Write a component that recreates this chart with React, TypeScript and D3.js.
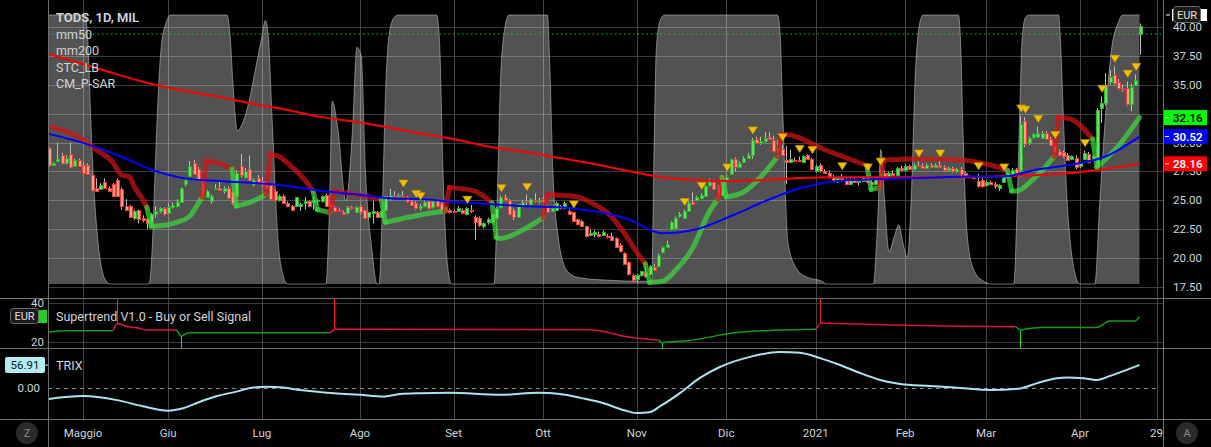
import React from "react";
import * as d3 from "d3";

// TODS daily candles [open, high, low, close], 21 Apr 2020 - 23 Apr 2021
const candles: [number, number, number, number][] = [
  [29.5, 29.6, 27.9, 28.1], [28.1, 28.3, 28.0, 28.25], [28.4, 30.0, 28.3, 28.6], [28.9, 29.1, 28.1, 28.2],
  [28.2, 28.9, 28.1, 28.7], [29.05, 30.0, 27.8, 27.9], [28.0, 28.6, 27.9, 28.45], [28.5, 28.6, 27.9, 28.0],
  [28.1, 28.3, 27.3, 27.4], [28.1, 28.2, 27.2, 27.3], [27.2, 27.3, 25.8, 25.9], [26.05, 26.9, 25.8, 25.85],
  [25.95, 26.5, 25.9, 26.3], [26.6, 26.9, 26.0, 26.1], [26.1, 26.2, 25.7, 25.8], [26.4, 26.5, 25.3, 25.4],
  [26.8, 26.9, 25.3, 25.4], [26.0, 26.1, 24.2, 24.5], [24.5, 25.1, 24.1, 24.2], [24.5, 24.6, 23.5, 23.6],
  [23.45, 24.2, 23.3, 24.05], [24.15, 24.2, 23.0, 23.35], [23.45, 23.7, 23.1, 23.3], [23.35, 23.5, 22.5, 23.0],
  [23.0, 23.9, 22.8, 23.8], [23.8, 24.5, 23.5, 24.05], [24.05, 24.4, 23.9, 24.3], [24.3, 24.4, 23.7, 23.8],
  [23.9, 24.7, 23.8, 24.4], [24.4, 24.8, 24.3, 24.6], [24.55, 25.1, 24.4, 24.85], [24.85, 26.1, 24.8, 26.05],
  [26.4, 26.8, 26.2, 26.75], [27.1, 28.4, 27.0, 28.0], [28.2, 28.5, 27.2, 27.3], [27.7, 27.9, 26.7, 26.8],
  [26.6, 26.7, 25.4, 25.5], [25.3, 25.9, 25.2, 25.8], [24.9, 25.5, 24.7, 25.35], [26.0, 26.4, 25.9, 26.1],
  [26.05, 26.6, 25.8, 25.9], [25.8, 26.2, 25.6, 26.1], [26.1, 26.2, 25.1, 25.2], [25.7, 25.8, 24.6, 24.75],
  [25.4, 27.6, 25.3, 27.4], [28.0, 29.0, 27.0, 27.15], [27.05, 27.8, 26.9, 27.5], [27.75, 28.9, 26.7, 26.8],
  [26.4, 26.9, 26.2, 26.8], [26.9, 27.2, 26.4, 26.55], [26.7, 27.0, 26.2, 26.3], [26.4, 26.6, 25.9, 26.05],
  [26.3, 26.4, 25.0, 25.1], [25.8, 25.9, 24.9, 25.0], [25.0, 25.5, 24.9, 25.4], [25.4, 25.5, 24.7, 24.8],
  [24.75, 24.9, 24.4, 24.5], [24.5, 24.6, 24.1, 24.2], [24.5, 25.3, 24.4, 25.25], [24.5, 24.8, 24.1, 24.65],
  [24.75, 25.3, 24.2, 24.9], [24.9, 25.0, 24.4, 24.55], [24.85, 25.3, 24.2, 25.0], [24.9, 25.1, 24.6, 25.0],
  [24.9, 25.4, 24.8, 25.35], [25.5, 25.6, 24.4, 24.5], [24.7, 24.8, 24.4, 24.45], [24.4, 24.5, 24.0, 24.1],
  [24.2, 24.3, 24.0, 24.05], [24.0, 24.1, 23.8, 23.85], [23.9, 24.5, 23.8, 24.4], [24.4, 24.5, 24.2, 24.3],
  [24.0, 24.5, 23.9, 24.4], [24.5, 24.6, 23.8, 24.0], [24.15, 24.2, 23.4, 23.45], [23.6, 24.0, 23.4, 23.95],
  [23.9, 25.0, 23.0, 24.05], [23.95, 24.1, 23.5, 23.6], [23.6, 24.1, 23.5, 24.05], [24.2, 25.4, 24.1, 25.35],
  [25.3, 26.0, 25.0, 25.45], [25.4, 25.8, 25.2, 25.3], [25.35, 25.6, 25.2, 25.45], [25.4, 25.8, 25.2, 25.3],
  [25.25, 25.35, 24.8, 24.9], [24.9, 25.0, 24.5, 24.6], [24.8, 24.9, 24.2, 24.3], [24.3, 24.7, 24.1, 24.55],
  [24.5, 25.0, 24.4, 24.85], [24.9, 25.0, 24.2, 24.3], [24.4, 25.1, 24.3, 24.95], [25.0, 25.1, 24.4, 24.5],
  [24.8, 24.9, 24.1, 24.2], [24.05, 24.5, 23.9, 24.4], [24.2, 24.3, 23.9, 23.95], [24.1, 24.2, 23.9, 23.95],
  [24.1, 24.5, 24.0, 24.35], [24.2, 24.3, 23.8, 23.9], [23.8, 24.4, 23.7, 24.3], [24.2, 24.6, 23.9, 24.05],
  [23.6, 23.7, 21.6, 23.15], [23.5, 23.6, 22.7, 22.85], [22.8, 23.1, 22.6, 23.0], [23.1, 23.5, 22.9, 23.35],
  [23.1, 23.9, 23.0, 23.8], [23.5, 24.4, 23.4, 24.3], [24.4, 25.4, 24.3, 25.25], [25.25, 25.5, 24.9, 25.0],
  [25.05, 25.1, 23.7, 23.8], [24.2, 24.3, 23.3, 23.6], [23.55, 24.7, 23.5, 24.65], [24.55, 25.0, 24.4, 24.85],
  [24.9, 25.5, 24.6, 24.85], [24.65, 25.2, 24.5, 25.15], [25.05, 25.6, 24.8, 24.9], [24.9, 25.2, 24.7, 25.0],
  [25.15, 25.3, 24.7, 24.85], [24.55, 24.7, 23.9, 23.95], [24.1, 24.4, 24.0, 24.3], [24.2, 24.9, 24.1, 24.8],
  [24.5, 24.6, 24.2, 24.3], [24.3, 24.9, 24.2, 24.8], [24.1, 24.2, 23.8, 23.85], [23.95, 24.0, 23.2, 23.25],
  [23.35, 23.4, 22.9, 22.95], [23.2, 23.3, 22.7, 22.75], [22.75, 22.8, 21.8, 21.9], [22.0, 22.5, 21.9, 22.2],
  [22.1, 22.4, 21.8, 22.3], [22.1, 22.3, 21.8, 21.95], [22.0, 22.4, 21.9, 22.25], [21.95, 22.1, 21.7, 21.8],
  [21.9, 22.2, 21.5, 21.6], [21.7, 21.8, 20.9, 20.95], [21.1, 21.3, 20.5, 20.6], [20.4, 20.5, 19.4, 19.5],
  [19.65, 19.7, 18.5, 18.6], [18.55, 18.6, 17.95, 18.1], [18.15, 18.6, 17.9, 18.5], [18.5, 18.9, 18.4, 18.85],
  [18.8, 19.3, 18.3, 18.45], [18.6, 19.4, 18.5, 19.3], [19.2, 19.5, 18.9, 19.0], [19.3, 20.4, 19.2, 20.3],
  [20.5, 21.0, 20.4, 20.95], [21.0, 21.5, 20.9, 21.2], [22.5, 23.2, 22.4, 23.1], [22.6, 23.6, 22.5, 23.45],
  [23.65, 24.0, 23.5, 23.8], [23.5, 24.2, 23.4, 24.1], [24.05, 24.9, 24.0, 24.75], [24.85, 25.7, 24.6, 24.7],
  [25.0, 25.4, 24.9, 25.25], [25.2, 25.6, 25.1, 25.45], [25.35, 26.3, 25.3, 26.2], [26.3, 26.9, 26.2, 26.6],
  [26.6, 26.8, 25.9, 25.95], [26.3, 26.4, 25.2, 25.5], [25.5, 26.7, 25.4, 26.6], [26.7, 27.2, 26.6, 27.05],
  [27.25, 28.6, 27.2, 28.55], [28.55, 28.7, 27.5, 27.9], [27.9, 28.4, 27.8, 28.2], [28.3, 28.8, 28.2, 28.7],
  [28.7, 29.1, 28.6, 28.95], [28.95, 30.4, 28.6, 30.25], [30.35, 30.5, 29.9, 30.0], [30.0, 30.5, 29.8, 30.1],
  [30.1, 30.9, 30.0, 30.4], [30.45, 30.9, 30.3, 30.35], [30.25, 30.6, 29.2, 29.3], [29.3, 30.2, 29.1, 29.55],
  [29.4, 29.8, 28.9, 28.95], [28.45, 29.7, 26.4, 28.3], [28.3, 29.4, 28.2, 28.55], [28.5, 28.7, 28.3, 28.4],
  [28.5, 28.8, 28.3, 28.45], [28.35, 28.9, 28.3, 28.8], [28.9, 29.0, 28.5, 28.6], [28.6, 28.7, 27.6, 27.75],
  [27.5, 28.1, 27.4, 28.0], [28.1, 28.2, 27.4, 27.5], [27.55, 27.7, 27.3, 27.4], [27.4, 27.6, 26.9, 27.0],
  [27.0, 27.2, 26.6, 26.7], [26.7, 27.0, 26.5, 26.9], [26.9, 27.3, 26.7, 26.8], [26.8, 26.9, 26.3, 26.4],
  [26.4, 26.9, 26.3, 26.8], [26.8, 27.0, 26.5, 26.6], [26.6, 26.8, 26.3, 26.7], [26.7, 27.1, 26.6, 27.0],
  [27.0, 27.2, 26.5, 26.6], [26.6, 26.8, 26.2, 26.4], [26.4, 27.0, 26.3, 26.9], [26.9, 27.7, 26.2, 27.4],
  [27.4, 27.6, 26.9, 27.1], [27.1, 27.5, 27.0, 27.4], [27.4, 27.6, 27.1, 27.2], [27.2, 27.9, 27.1, 27.8],
  [27.8, 28.0, 27.5, 27.6], [27.6, 28.1, 27.5, 28.0], [28.0, 28.1, 27.6, 27.7], [27.7, 28.2, 27.6, 28.1],
  [28.1, 28.4, 27.9, 28.0], [28.0, 28.2, 27.7, 27.8], [27.8, 28.2, 27.7, 28.1], [28.1, 28.2, 27.8, 27.9],
  [27.9, 28.2, 27.8, 28.1], [28.1, 28.4, 27.8, 27.9], [27.9, 28.0, 27.5, 27.6], [27.6, 27.9, 27.5, 27.8],
  [27.8, 27.9, 27.4, 27.5], [27.5, 27.8, 27.4, 27.7], [27.7, 27.9, 27.1, 27.25], [27.4, 27.5, 26.9, 27.05],
  [27.0, 27.2, 26.9, 27.1], [27.0, 27.1, 26.8, 26.9], [26.65, 27.3, 26.1, 26.2], [26.8, 26.9, 26.1, 26.2],
  [26.3, 26.7, 26.2, 26.55], [26.55, 26.7, 26.3, 26.4], [26.45, 26.6, 26.0, 26.2], [26.05, 26.4, 25.8, 26.3],
  [26.6, 27.2, 26.5, 27.0], [27.05, 27.5, 27.0, 27.4], [27.3, 27.8, 27.2, 27.65], [27.7, 27.8, 27.3, 27.4],
  [27.6, 32.3, 27.0, 31.6], [31.9, 32.2, 29.6, 29.9], [30.0, 30.5, 29.8, 30.4], [30.45, 30.8, 30.3, 30.7],
  [30.5, 31.4, 30.4, 30.8], [30.4, 31.0, 30.3, 30.85], [30.85, 31.0, 30.3, 30.35], [30.35, 30.5, 29.7, 29.8],
  [29.8, 30.0, 29.1, 29.2], [29.3, 29.4, 28.9, 28.95], [29.2, 29.3, 28.7, 28.8], [28.95, 29.1, 28.4, 28.5],
  [28.6, 28.9, 28.5, 28.8], [28.7, 28.9, 27.7, 27.85], [27.95, 28.3, 27.8, 28.25], [28.6, 29.3, 28.5, 29.1],
  [29.0, 29.2, 28.2, 28.35], [28.55, 28.9, 28.4, 28.8], [27.85, 33.0, 27.8, 32.85], [33.0, 34.0, 31.7, 33.45],
  [33.4, 36.0, 33.2, 35.0], [35.25, 36.3, 35.0, 35.7], [35.85, 36.6, 35.0, 35.15], [35.25, 35.5, 34.6, 34.75],
  [34.75, 35.0, 34.4, 34.6], [34.75, 35.3, 33.2, 33.3], [33.3, 35.1, 32.7, 34.85], [35.0, 35.9, 34.9, 35.45],
  [39.4, 40.3, 37.6, 40.1],
];

const lastPrice = 39.4;

// moving averages sampled every 8 sessions
const maIdx = [0, 8, 16, 24, 32, 40, 48, 56, 64, 72, 80, 88, 96, 104, 112, 120, 128, 136, 144, 152, 160, 168, 176, 184, 192, 200, 208, 216, 224, 232, 240, 248, 256];
const mm50 = [30.75, 29.97, 28.92, 27.67, 26.9, 26.67, 26.5, 26.24, 25.8, 25.52, 25.17, 25.09, 24.83, 24.66, 24.48, 24.4, 24.05, 23.36, 22.15, 22.5, 23.62, 24.91, 26.03, 26.64, 26.81, 26.9, 26.98, 27.07, 27.07, 27.67, 28.1, 28.79, 30.52];
const mm200 = [37.66, 36.8, 35.9, 35.07, 34.46, 33.94, 33.34, 32.82, 32.2, 31.8, 31.28, 30.74, 30.22, 29.6, 29.18, 28.66, 28.14, 27.54, 27.0, 26.76, 26.67, 26.76, 26.93, 27.0, 27.0, 27.0, 27.0, 27.0, 27.1, 27.19, 27.37, 27.71, 28.16];

// CM_P-SAR trailing line: [session, price, trend]  (1 = up/green, -1 = down/red)
const sar: [number, number, number][] = [
  [0, 31.4, -1], [9, 30.0, -1], [11, 29.4, -1], [15, 28.3, -1], [17, 27.2, -1], [19, 27.0, -1], [20, 26.2, -1], [22, 25.1, -1], [23, 24.4, -1],
  [24, 22.75, 1], [26, 22.8, 1], [30, 23.1, 1], [33, 23.6, 1], [35, 24.7, 1], [36, 25.3, 1],
  [37, 28.4, -1], [40, 28.2, -1], [43, 27.7, -1],
  [44, 24.5, 1], [47, 24.8, 1], [51, 25.5, 1],
  [52, 29.0, -1], [54, 28.8, -1], [57, 27.9, -1], [60, 26.8, -1], [62, 25.8, -1],
  [63, 24.2, 1], [66, 23.95, 1],
  [67, 25.8, -1], [72, 25.5, -1], [78, 25.1, -1],
  [79, 23.1, 1], [84, 23.5, 1], [88, 23.8, 1], [93, 24.05, 1],
  [94, 26.1, -1], [97, 26.0, -1], [100, 25.8, -1], [104, 24.8, -1],
  [105, 21.8, 1], [106, 21.7, 1], [110, 22.2, 1], [116, 23.5, 1],
  [117, 25.5, -1], [124, 25.3, -1], [127, 24.85, -1], [132, 23.6, -1], [135, 22.2, -1], [138, 20.5, -1], [140, 19.5, -1],
  [141, 17.9, 1], [144, 18.0, 1], [147, 18.9, 1], [151, 20.8, 1], [155, 24.0, 1], [157, 25.1, 1],
  [158, 27.0, -1],
  [159, 25.3, 1], [163, 25.7, 1], [168, 27.4, 1], [171, 28.8, 1],
  [172, 30.7, -1], [173, 30.7, -1], [182, 29.4, -1], [192, 28.0, -1],
  [193, 25.95, 1], [195, 26.1, 1],
  [196, 28.5, -1], [205, 28.6, -1], [214, 28.5, -1], [223, 27.85, -1], [225, 27.6, -1],
  [226, 25.8, 1], [227, 25.8, 1], [231, 26.8, 1], [236, 28.8, 1],
  [237, 32.2, -1], [240, 32.0, -1], [245, 30.3, -1],
  [246, 27.85, 1], [251, 29.7, 1], [256, 32.16, 1],
];

// STC_LB oscillator (0-100) drawn as grey area behind price
const stc: [number, number][] = [
  [0, 100], [8.5, 100], [9.3, 85], [9.8, 62], [10.6, 35], [11.5, 16], [12.5, 5], [13.5, 1], [14.5, 0],
  [23.5, 0], [24.3, 15], [25, 45], [25.8, 75], [26.5, 90], [27.5, 97], [28.5, 100], [41.8, 100], [42.5, 93], [43.3, 72], [44.2, 57],
  [45.5, 60], [47, 68], [48.5, 80], [50, 92], [50.8, 98], [51.5, 92], [52.4, 61], [53.8, 16], [55, 3], [56, 0],
  [65, 0], [65.8, 25], [66.5, 68], [67.8, 58], [69.7, 31], [71.3, 58], [72.3, 88], [73.3, 85], [74.3, 42], [75.8, 13], [77, 0],
  [77.5, 0], [78.3, 30], [79, 70], [79.8, 92], [81, 99], [82, 100], [91, 100], [91.7, 90], [92.5, 42], [93.5, 8], [94.5, 0],
  [104.5, 0], [105.3, 35], [106, 75], [107, 95], [108, 100], [117, 100], [117.6, 80], [118.3, 42], [119.5, 18], [121.6, 5],
  [124, 2.5], [130, 1.5], [140, 1], [141.5, 1], [142, 45], [142.6, 88], [143.5, 98], [144.5, 100], [171, 100], [171.6, 94],
  [172.3, 62], [173.5, 15], [175.8, 5], [178, 2.5], [181.5, 1], [182.5, 0],
  [193.5, 0], [194.5, 22], [195.3, 50], [196.2, 30], [197.2, 12], [198.5, 18], [199.5, 22], [200.5, 15], [201.5, 10],
  [202.5, 35], [203.3, 75], [204.2, 95], [205.2, 100], [213.5, 100], [214, 90], [214.6, 55], [215.1, 31], [216, 12],
  [217.5, 4], [219, 1.5], [221, 0],
  [226.5, 0], [227.3, 31], [228, 70], [228.4, 90], [229.2, 99], [230, 100], [237, 100], [237.6, 85], [238.3, 55],
  [239, 31], [240, 12], [241, 3], [242, 0],
  [245.5, 0], [246.7, 31], [248, 62], [249.5, 88], [251, 97], [252, 100], [256, 100],
];

// sessions with a yellow STC signal above the candle
const signals = [83, 86, 87, 98, 106, 112, 123, 149, 153, 159, 165, 172, 176, 179, 186, 192, 195, 204, 209, 218, 224, 228, 229, 232, 236, 243, 247, 250, 253, 255];

// Supertrend V1.0: [session, value, trend]
const supertrend: [number, number, number][] = [
  [0, 25.1, 1], [4, 25.8, 1], [15, 25.8, 1],
  [16, 29.6, -1], [19, 27.7, -1], [21, 27.2, -1], [23, 26.2, -1], [30, 26.2, -1],
  [31, 22.7, 1], [32, 24.1, 1], [33, 24.8, 1], [66, 24.8, 1],
  [67, 26.5, -1], [127, 26.3, -1], [131, 25.0, -1], [135, 23.0, -1], [140, 21.5, -1], [143, 21.0, -1],
  [144, 19.5, 1], [145, 20.0, 1], [150, 20.6, 1], [155, 22.5, 1], [160, 24.5, 1], [165, 25.5, 1], [170, 26.0, 1], [175, 26.3, 1], [180, 26.5, 1],
  [181, 29.7, -1], [190, 29.2, -1], [200, 28.6, -1], [210, 28.2, -1], [220, 27.9, -1], [227, 27.8, -1],
  [228, 26.0, 1], [229, 26.5, 1], [233, 27.5, 1], [246, 27.5, 1], [249, 30.8, 1], [255, 30.8, 1], [256, 33.0, 1],
];

// TRIX
const trix: [number, number][] = [
  [0, -27], [8, -20], [16, -30], [22, -45], [28, -56], [31.5, -50], [35.5, -34], [39.5, -20], [44, -9], [48, 1], [51, 3],
  [55, 1], [59, -5], [67, -13], [73, -17], [78.5, -21], [82.4, -15], [87, -13], [94, -12], [106, -17], [115, -12],
  [120, -15], [125, -25], [130, -37], [135, -55], [138, -62], [141, -60], [143.5, -45], [146, -28], [148.2, -12],
  [152.8, 25], [157.5, 52], [164.6, 77], [171.6, 89], [176.3, 87], [181, 74], [185.7, 57], [190.4, 37], [195.1, 20],
  [199.8, 10], [206.8, 5], [213.9, 0], [220.9, -5], [227.5, -2], [232, 12], [236.6, 24], [239, 26], [242.8, 24],
  [246, 20], [249.1, 30], [253, 45], [256, 56.91],
];
const trixLast = 56.91;

// 32.50 sits fully under the green label in the reference, so it is not listed
const priceTicks = [17.5, 20, 22.5, 25, 27.5, 30, 35, 37.5, 40];
const gridTicks = [17.5, 20, 22.5, 25, 27.5, 30, 32.5, 35, 37.5, 40];
const monthLabels = ["Maggio", "Giu", "Lug", "Ago", "Set", "Ott", "Nov", "Dic", "2021", "Feb", "Mar", "Apr", "29"];
const monthIdx = [8, 28, 50, 73, 95, 116, 138, 159, 180, 201, 220, 242, 260];
const legend = ["TODS, 1D, MIL", "mm50", "mm200", "STC_LB", "CM_P-SAR"];
const lastLabels = [
  { v: 32.16, bg: "#00ff00", fg: "#000" },
  { v: 30.52, bg: "#0000ff", fg: "#fff" },
  { v: 28.16, bg: "#ff0000", fg: "#fff" },
];

const W = 1211;
const H = 447;
const L = 48;
const R = 1163;
const MAIN_B = 298;
const ST_T = 299;
const ST_B = 348;
const TR_T = 349;
const TR_B = 419;
const FONT = "Roboto, 'Open Sans', sans-serif";
const TXT = "#d1d4dc";

const UP_SAR = "rgba(60,215,60,0.72)";
const DN_SAR = "rgba(210,20,20,0.72)";

function runs(pts: [number, number, number][]) {
  const out: [number, number, number][][] = [];
  pts.forEach((p) => {
    const last = out[out.length - 1];
    if (last && last[0][2] === p[2]) last.push(p);
    else out.push([p]);
  });
  return out;
}

export default function App() {
  const x = d3.scaleLinear().domain([0, 256]).range([48.9, 1139.5]);
  const y = d3.scaleLinear().domain([17.5, 40]).range([287, 27]);
  const yStc = d3.scaleLinear().domain([0, 100]).range([284, 15]);
  const ySt = d3.scaleLinear().domain([20, 40]).range([342, 303]);
  const yTr = d3.scaleLinear().domain([0, trixLast]).range([388, 365]);

  const maLine = (vals: number[]) =>
    d3
      .line<number>()
      .x((_, i) => x(maIdx[i]))
      .y((d) => y(d))
      .curve(d3.curveMonotoneX)(vals) || "";

  const stcArea = d3
    .area<[number, number]>()
    .x((d) => x(d[0]))
    .y0(yStc(0))
    .y1((d) => yStc(d[1]))
    .curve(d3.curveMonotoneX)(stc) || "";
  const stcLine = d3
    .line<[number, number]>()
    .x((d) => x(d[0]))
    .y((d) => yStc(d[1]))
    .curve(d3.curveMonotoneX)(stc) || "";

  const sarRuns = runs(sar);
  const stRuns = runs(supertrend);

  const runPath = (r: [number, number, number][], sy: (v: number) => number) =>
    d3
      .line<[number, number, number]>()
      .x((d) => x(d[0]))
      .y((d) => sy(d[1]))
      .curve(d3.curveMonotoneX)(r) || "";

  const trixPath = d3
    .line<[number, number]>()
    .x((d) => x(d[0]))
    .y((d) => yTr(d[1]))
    .curve(d3.curveMonotoneX)(trix) || "";

  return (
    <div>
      <style>{`body{margin:0;background:#000;overflow:hidden}`}</style>
      <svg width={W} height={H} style={{ display: "block", background: "#000" }} fontFamily={FONT}>
        <defs>
          <clipPath id="mainClip">
            <rect x={L} y={0} width={R - L} height={MAIN_B} />
          </clipPath>
          <clipPath id="stClip">
            <rect x={L} y={ST_T} width={R - L} height={ST_B - ST_T} />
          </clipPath>
          <clipPath id="trClip">
            <rect x={L} y={TR_T} width={R - L} height={TR_B - TR_T} />
          </clipPath>
        </defs>

        {/* grid */}
        {gridTicks.map((t) => (
          <line key={"g" + t} x1={L} x2={R} y1={Math.round(y(t)) + 0.5} y2={Math.round(y(t)) + 0.5} stroke="#3a3a3a" />
        ))}
        {[20, 40].map((t) => (
          <line key={"gs" + t} x1={L} x2={R} y1={Math.round(ySt(t)) + 0.5} y2={Math.round(ySt(t)) + 0.5} stroke="#3a3a3a" />
        ))}
        {monthIdx.map((m, k) => (
          <line key={"v" + k} x1={Math.round(x(m)) + 0.5} x2={Math.round(x(m)) + 0.5} y1={0} y2={TR_B} stroke="#444" />
        ))}

        <g clipPath="url(#mainClip)">
          {/* STC area */}
          <path d={stcArea} fill="rgba(255,255,255,0.32)" />
          <path d={stcLine} fill="none" stroke="rgba(200,200,200,0.55)" strokeWidth={1} />

          {/* candles */}
          {candles.map((c, i) => {
            const [o, h, l, cl] = c;
            const r = Math.round(x(i));
            const up = cl >= o;
            const top = Math.round(y(Math.max(o, cl)));
            const bot = Math.round(y(Math.min(o, cl)));
            return (
              <g key={"c" + i}>
                <line x1={r + 0.5} x2={r + 0.5} y1={y(h)} y2={y(l)} stroke="#bdbdbd" strokeWidth={1} />
                <rect
                  x={r - 0.5}
                  y={top + 0.5}
                  width={3}
                  height={Math.max(1, bot - top)}
                  fill={up ? "#72d872" : "#f8a27e"}
                  stroke={up ? "#24b824" : "#f23a3a"}
                  strokeWidth={1}
                />
              </g>
            );
          })}

          {/* SAR thick line */}
          {sarRuns.map((r, k) => {
            const col = r[0][2] > 0 ? UP_SAR : DN_SAR;
            const prev = k > 0 ? sarRuns[k - 1][sarRuns[k - 1].length - 1] : null;
            return (
              <g key={"s" + k}>
                {prev && (
                  <line
                    x1={x(prev[0])}
                    y1={y(prev[1])}
                    x2={x(r[0][0])}
                    y2={y(r[0][1])}
                    stroke={col}
                    strokeWidth={5}
                    strokeLinecap="round"
                  />
                )}
                {r.length > 1 && (
                  <path d={runPath(r, y)} fill="none" stroke={col} strokeWidth={5} strokeLinecap="round" strokeLinejoin="round" />
                )}
              </g>
            );
          })}

          {/* moving averages */}
          <path d={maLine(mm200)} fill="none" stroke="#ff0000" strokeWidth={2} />
          <path d={maLine(mm50)} fill="none" stroke="#0000ff" strokeWidth={2} />

          {/* STC signals */}
          {signals.map((s) => {
            const cx = x(s) + 1;
            const tip = y(candles[s][1]) - 4;
            return (
              <path
                key={"t" + s}
                d={`M${cx - 4.5},${tip - 7}L${cx + 4.5},${tip - 7}L${cx},${tip}Z`}
                fill="#f5c000"
                stroke="#c79a00"
                strokeWidth={0.7}
              />
            );
          })}

          {/* last price line */}
          <line x1={L} x2={R} y1={y(lastPrice)} y2={y(lastPrice)} stroke="#22c32e" strokeDasharray="1.5,3" />
        </g>

        {/* supertrend pane */}
        <g clipPath="url(#stClip)">
          {stRuns.map((r, k) => {
            const up = r[0][2] > 0;
            const col = up ? "#169c16" : "#dc143c";
            const prev = k > 0 ? stRuns[k - 1][stRuns[k - 1].length - 1] : null;
            return (
              <g key={"st" + k}>
                {prev && (
                  <>
                    <line x1={x(prev[0])} y1={ySt(prev[1])} x2={x(r[0][0])} y2={ySt(r[0][1])} stroke={col} strokeWidth={1.5} />
                    <line
                      x1={Math.round(x(r[0][0])) + 0.5}
                      x2={Math.round(x(r[0][0])) + 0.5}
                      y1={ySt(r[0][1])}
                      y2={up ? ST_B : ST_T}
                      stroke={up ? "#1ee61e" : "#ff1a1a"}
                      strokeWidth={1}
                    />
                  </>
                )}
                <path d={runPath(r, ySt)} fill="none" stroke={col} strokeWidth={1.5} />
              </g>
            );
          })}
        </g>

        {/* TRIX pane */}
        <line x1={L} x2={1157} y1={Math.round(yTr(0)) + 0.5} y2={Math.round(yTr(0)) + 0.5} stroke="#8a8a8a" strokeDasharray="4,4" />
        <g clipPath="url(#trClip)">
          <path d={trixPath} fill="none" stroke="#a9e5ee" strokeWidth={2} />
        </g>

        {/* pane separators */}
        {[MAIN_B, ST_B, TR_B].map((v) => (
          <line key={"sep" + v} x1={0} x2={W} y1={v + 0.5} y2={v + 0.5} stroke="#707070" />
        ))}
        <line x1={L + 0.5} x2={L + 0.5} y1={0} y2={H} stroke="#707070" />
        <line x1={R + 0.5} x2={R + 0.5} y1={0} y2={H} stroke="#707070" />

        {/* legends */}
        {legend.map((t, k) => (
          <text key={"lg" + k} x={56} y={22 + k * 16.6} fill={TXT} fontSize={k === 0 ? 13 : 12.5} fontWeight={k === 0 ? 600 : 400}>
            {t}
          </text>
        ))}
        <text x={56} y={321} fill={TXT} fontSize={12.5}>
          Supertrend V1.0 - Buy or Sell Signal
        </text>
        <text x={56} y={370} fill={TXT} fontSize={12.5}>
          TRIX
        </text>

        {/* right price axis */}
        {priceTicks.map((t) => (
          <text key={"pl" + t} x={1173} y={y(t) + 4} fill={TXT} fontSize={11.5}>
            {t.toFixed(2)}
          </text>
        ))}
        {lastLabels.map((lb) => (
          <g key={"ll" + lb.v}>
            <rect x={R + 1} y={y(lb.v) - 7.5} width={43} height={15} fill={lb.bg} />
            <line x1={R + 2} x2={R + 6} y1={y(lb.v)} y2={y(lb.v)} stroke="#fff" />
            <text x={1173} y={y(lb.v) + 4} fill={lb.fg} fontSize={11.5} fontWeight={600}>
              {lb.v.toFixed(2)}
            </text>
          </g>
        ))}
        <rect x={R + 9} y={9} width={35} height={12} fill="#fff" />
        <line x1={R + 3} x2={R + 7} y1={15} y2={15} stroke="#fff" />
        <rect x={1173.5} y={6.5} width={27} height={16} rx={3} fill="#1a1a1a" stroke="#6a6a6a" />
        <text x={1187} y={18.5} fill="#e0e0e0" fontSize={11} textAnchor="middle">
          EUR
        </text>

        {/* left scale of lower panes */}
        <text x={44} y={307} fill={TXT} fontSize={11.5} textAnchor="end">
          {40}
        </text>
        <text x={44} y={346} fill={TXT} fontSize={11.5} textAnchor="end">
          {20}
        </text>
        <rect x={22} y={310} width={25} height={13} fill="#1ed21e" />
        <rect x={10.5} y={308.5} width={28} height={15} rx={3} fill="#1a1a1a" stroke="#6a6a6a" />
        <text x={24.5} y={320} fill="#e0e0e0" fontSize={11} textAnchor="middle">
          EUR
        </text>
        <rect x={5} y={357} width={40} height={16} rx={2} fill="#b2ebf2" />
        <line x1={44} x2={48} y1={yTr(trixLast)} y2={yTr(trixLast)} stroke="#b2ebf2" />
        <text x={25} y={369} fill="#131722" fontSize={11.5} textAnchor="middle">
          {trixLast.toFixed(2)}
        </text>
        <text x={40} y={yTr(0) + 4} fill={TXT} fontSize={11.5} textAnchor="end">
          {(0).toFixed(2)}
        </text>

        {/* time axis */}
        {monthLabels.map((m, k) => (
          <text key={"ml" + k} x={x(monthIdx[k])} y={437} fill={TXT} fontSize={11.5} textAnchor="middle">
            {m}
          </text>
        ))}
        <circle cx={27} cy={433} r={11} fill="#2a2a2a" />
        <text x={27} y={437} fill="#8a8a8a" fontSize={11} textAnchor="middle">
          Z
        </text>
        <circle cx={1187} cy={433} r={11} fill="#2a2a2a" />
        <text x={1187} y={437} fill="#8a8a8a" fontSize={11} textAnchor="middle">
          A
        </text>
      </svg>
    </div>
  );
}
